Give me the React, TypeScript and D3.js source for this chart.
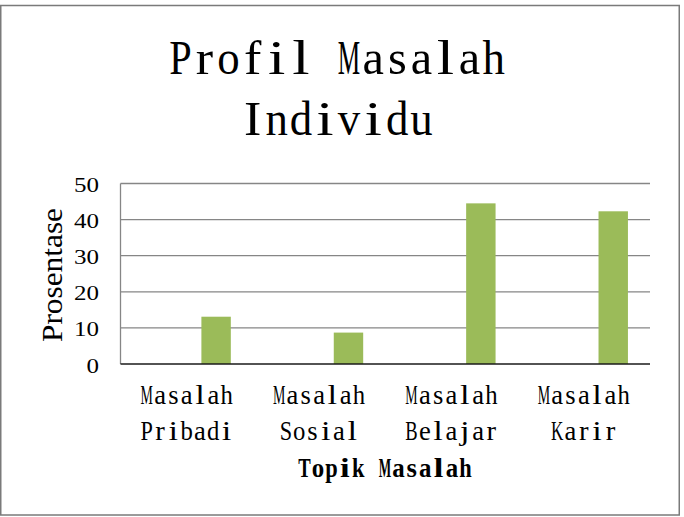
import React from "react";
import * as d3 from "d3";

const categories = ["Masalah Pribadi", "Masalah Sosial", "Masalah Belajar", "Masalah Karir"];
const categoryLines = [
  ["Masalah", "Pribadi"],
  ["Masalah", "Sosial"],
  ["Masalah", "Belajar"],
  ["Masalah", "Karir"],
];
const seriesSlots = ["Seri 1", "Seri 2", "Prosentase"];
const shownSeries = "Prosentase";
const values = [13.1, 8.7, 44.5, 42.3];
const yTicks = [0, 10, 20, 30, 40, 50];
const titleLines = ["Profil Masalah", "Individu"];
const xAxisTitle = "Topik Masalah";
const yAxisTitle = "Prosentase";

const W = 684;
const H = 517;
const plot = { left: 120.5, right: 650, top: 183.5, bottom: 364 };
const SERIF = "'Liberation Serif', 'DejaVu Serif', serif";

// approximate advance widths (em) of the serif face, used to fit each glyph into a mono cell
const ADV: Record<string, number> = {
  P: 0.556, r: 0.333, o: 0.5, f: 0.333, i: 0.278, l: 0.278, M: 0.889, a: 0.444, s: 0.389,
  h: 0.5, I: 0.333, n: 0.5, d: 0.5, v: 0.5, u: 0.5, B: 0.667, e: 0.444, j: 0.278, K: 0.722,
  S: 0.556, b: 0.5, c: 0.444, t: 0.278, k: 0.5, p: 0.5, T: 0.611,
};
const ADV_BOLD: Record<string, number> = {
  T: 0.667, o: 0.5, p: 0.556, i: 0.278, k: 0.556, M: 0.944, a: 0.5, s: 0.389, l: 0.278, h: 0.556,
};

function MonoText({
  text,
  cx,
  y,
  cell,
  bold = false,
}: {
  text: string;
  cx: number;
  y: number;
  cell: number;
  bold?: boolean;
}) {
  const fs = cell * 2;
  const x0 = cx - (cell * text.length) / 2;
  const table = bold ? ADV_BOLD : ADV;
  return (
    <g>
      {text.split("").map((ch, i) => {
        if (ch === " ") return null;
        const w = table[ch] ?? 0.5;
        const frac = w / 0.5;
        const fit = frac < 0.72 ? 0.72 : frac > 0.93 ? 0.93 : frac;
        const sx = fit / frac;
        const gx = x0 + (i + 0.5) * cell;
        return (
          <text
            key={i}
            transform={`translate(${gx},${y}) scale(${sx},1)`}
            textAnchor="middle"
            fontFamily={SERIF}
            fontSize={fs}
            fontWeight={bold ? "bold" : "normal"}
            fill="#000"
          >
            {ch}
          </text>
        );
      })}
    </g>
  );
}

export default function App() {
  const x = d3.scaleBand<string>().domain(categories).range([plot.left, plot.right]).padding(0);
  const inner = d3
    .scaleBand<string>()
    .domain(seriesSlots)
    .range([0, x.bandwidth()])
    .paddingInner(0)
    .paddingOuter(0.75);
  const y = d3.scaleLinear().domain([0, 50]).range([plot.bottom, plot.top]);

  return (
    <svg
      width={W}
      height={H}
      style={{ position: "absolute", left: 0, top: 0, background: "#fff" }}
    >
      <rect x={0.75} y={5.5} width={678.5} height={509.5} fill="#fff" stroke="#7a7a7a" strokeWidth={1.5} />

      {titleLines.map((t, i) => (
        <MonoText key={t} text={t} cx={337} y={74 + i * 61} cell={24.1} />
      ))}

      {yTicks
        .filter((t) => t > 0)
        .map((t) => (
          <line
            key={"g" + t}
            x1={plot.left}
            x2={plot.right}
            y1={y(t)}
            y2={y(t)}
            stroke="#868686"
            strokeWidth={1.3}
          />
        ))}

      {categories.map((c, i) => (
        <rect
          key={"b" + c}
          x={(x(c) ?? 0) + (inner(shownSeries) ?? 0)}
          y={y(values[i])}
          width={inner.bandwidth()}
          height={y(0) - y(values[i])}
          fill="#9BBB59"
        />
      ))}

      <line x1={plot.left} x2={plot.left} y1={plot.top} y2={plot.bottom} stroke="#868686" strokeWidth={1.3} />
      <line x1={plot.left} x2={plot.right} y1={plot.bottom} y2={plot.bottom} stroke="#1a1a1a" strokeWidth={1.3} />

      {yTicks.map((t) => {
        const s = String(t);
        return (
          <text
            key={"t" + t}
            x={99}
            y={y(t) + 8.5}
            textAnchor="end"
            fontFamily={SERIF}
            fontSize={20}
            fill="#000"
            textLength={12.5 * s.length}
            lengthAdjust="spacingAndGlyphs"
          >
            {s}
          </text>
        );
      })}

      <text
        transform={`translate(62,275) rotate(-90)`}
        textAnchor="middle"
        fontFamily={SERIF}
        fontSize={30}
        fill="#000"
        textLength={134}
        lengthAdjust="spacingAndGlyphs"
      >
        {yAxisTitle}
      </text>

      {categories.map((c, i) =>
        categoryLines[i].map((ln, j) => (
          <MonoText
            key={c + j}
            text={ln}
            cx={(x(c) ?? 0) + x.bandwidth() / 2}
            y={404 + j * 36}
            cell={13.3}
          />
        ))
      )}

      <MonoText text={xAxisTitle} cx={385} y={477} cell={13.4} bold />
    </svg>
  );
}
